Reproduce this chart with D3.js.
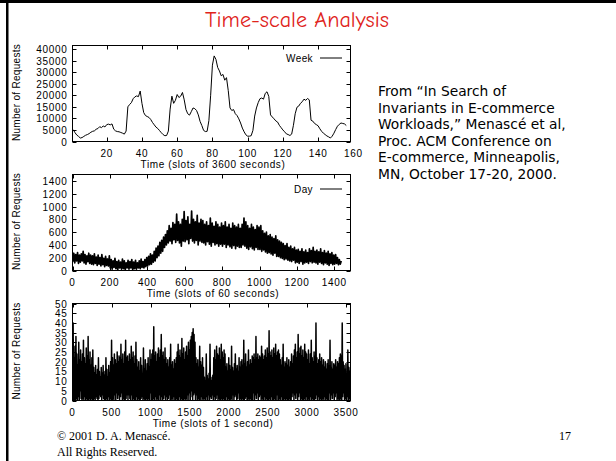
<!DOCTYPE html>
<html><head><meta charset="utf-8">
<script src="https://cdn.jsdelivr.net/npm/d3@7"></script>
<style>html,body{margin:0;padding:0;background:#fff;}svg{display:block;}</style>
</head><body><svg id="c" width="616" height="461"></svg>
<script>
// ---------------- DATA ----------------
const titleText = "Time-scale Analysis";
const sourceLines = ["From \u201CIn Search of", "Invariants in E-commerce", "Workloads,\u201D Menasc\u00E9 et al,", "Proc. ACM Conference on", "E-commerce, Minneapolis,", "MN, October 17-20, 2000."];
const footerLines = ["\u00A9 2001 D. A. Menasc\u00E9.", "All Rights Reserved."];
const pageNumber = "17";
const yAxisTitle = "Number of Requests";

// Week: requests per 3600-s slot, slots 1..156
const weekSlotStart = 1;
const weekValues = [5100,3800,2800,2200,1500,1700,2200,2700,3000,3400,4000,4400,4600,5300,5600,6400,6000,6700,6300,7300,
7500,7200,7600,5300,4600,4300,4200,3900,3600,3200,4500,15000,16000,16800,18500,19300,19700,19400,21800,16500,
12500,11200,10800,10400,9500,8200,7200,6200,5600,4700,3800,3000,2500,2600,4500,14000,19600,16500,17800,20300,
19000,19600,21200,18000,13800,12000,11400,12900,14500,14200,13400,11500,8700,6900,4800,4300,4400,9000,20000,33000,
37000,35500,32000,30500,28400,29000,26500,27600,22000,14500,13400,13800,12000,11200,9800,8000,5800,4200,2900,2300,
2300,2500,4800,11000,14500,16800,18500,18800,18300,20800,21500,19500,11500,10600,9800,8900,8400,7000,6000,5000,
4200,3300,3000,2600,3200,7000,12000,14800,15300,16500,17200,18300,17800,18600,18000,9200,8800,7800,7300,6800,
5500,4400,3600,3000,2400,2000,1500,2300,3600,5200,6600,7400,8000,7800,7600,6900];
const weekTicksX = [20,40,60,80,100,120,140,160];
const weekTicksY = [0,5000,10000,15000,20000,25000,30000,35000,40000];

// Day: per 10-slot bin (60-s slots), highest and lowest counts seen
const dayBinSize = 10;
const dayHigh = [
270,250,280,240,260,300,250,230,270,240, 230,260,210,240,200,250,190,220,180,230,
170,150,190,140,160,130,180,150,120,160, 140,170,130,160,120,150,180,140,170,200,
220,260,240,300,350,380,440,470,520,560, 620,700,660,750,720,880,760,720,800,920,
780,840,720,930,800,760,860,740,800,780, 720,760,700,820,740,690,760,720,680,740,
700,760,680,720,660,740,700,680,720,660, 720,820,760,700,660,720,680,640,700,680,
700,620,580,600,540,560,520,500,540,480, 460,440,420,390,420,360,380,340,360,320,
330,300,340,290,320,280,340,310,360,300, 320,290,340,280,310,270,300,260,280,240,
250,200,170,150];
const dayLow = [
140,120,150,110,130,150,120,100,140,110, 100,90,110,80,100,70,90,60,80,70,
40,20,50,30,10,40,20,30,10,40, 20,40,10,30,20,40,30,50,40,60,
70,90,100,130,150,200,230,270,300,360, 400,430,460,420,480,440,470,430,380,460,
450,480,420,500,460,430,470,400,460,440, 430,400,450,410,380,440,400,420,380,410,
380,410,360,400,370,350,390,340,380,360, 360,400,380,350,330,370,340,320,360,330,
330,300,320,290,270,280,260,240,270,220, 220,200,190,170,180,160,150,140,160,120,
130,110,140,100,120,130,110,140,120,130, 120,100,130,110,90,120,100,80,110,90,
100,110,90,100];
const dayTicksX = [0,200,400,600,800,1000,1200,1400];
const dayTicksY = [0,200,400,600,800,1000,1200,1400];

// Second: per 12-s bin, the highest and lowest 1-s counts seen
const secBinSize = 12;
const secHigh = [
40,22,28,33,24,18,30,21,26,20, 24,31,22,19,27,23,33,21,25,18, 22,26,17,14,18,13,16,22,15,12,
17,14,18,13,15,22,16,12,18,14, 20,31,22,18,24,21,19,25,20,23, 22,29,21,24,19,25,31,22,23,20,
24,21,28,22,25,19,23,30,21,17, 20,15,22,18,14,27,16,21,15,19, 22,17,26,21,24,26,38,23,25,20,
24,27,22,26,34,23,25,21,27,22, 19,21,17,22,29,18,20,16,21,19, 22,25,29,23,26,22,32,24,27,21,
25,28,23,30,26,31,33,35,37,34, 30,22,19,21,17,28,20,18,22,17, 12,10,24,13,11,14,29,12,10,13,
22,26,21,28,24,23,27,21,29,25, 22,26,24,17,19,15,22,18,16,28, 17,15,19,24,16,18,15,22,17,20,
21,18,31,19,24,17,20,26,18,21, 19,23,22,24,21,33,22,24,21,23, 22,28,24,21,23,26,22,27,24,36,
25,23,26,22,27,24,29,23,25,26, 24,21,18,22,29,17,20,19,22,18, 21,17,20,24,19,23,26,29,22,25,
34,24,27,28,23,26,22,29,25,24, 21,26,19,24,31,22,20,25,23,40, 22,19,21,24,20,22,18,21,17,20,
16,19,21,18,31,17,20,16,19,18, 21,17,20,19,22,24,23,40,20,18, 16,19,14,26,17,15,19];
const secLow = [
0,1,0,0,1,0,2,0,5,1, 0,1,0,2,0,1,0,0,1,0, 1,0,0,1,0,2,1,0,1,3,
2,0,3,1,0,0,1,0,2,0, 1,0,0,1,0,3,0,4,1,3, 0,2,4,0,1,0,0,1,3,0,
3,1,0,3,0,1,0,0,2,0, 1,0,0,1,2,0,1,0,0,1, 0,1,0,4,0,0,1,0,2,0,
1,0,0,3,0,2,0,1,3,0, 2,0,1,3,0,0,1,0,2,0, 0,1,0,0,2,0,1,0,0,1,
0,1,0,3,0,4,2,5,0,3, 4,0,3,0,1,0,0,2,0,1, 0,1,0,2,0,3,0,2,1,3,
0,2,0,1,3,0,1,0,0,1, 0,1,0,0,2,0,1,0,0,1, 0,3,0,2,3,0,1,4,0,1,
0,1,0,0,1,2,0,0,1,0, 1,0,0,4,0,3,1,4,0,2, 3,0,1,0,0,2,0,1,0,0,
1,0,2,0,0,1,0,0,3,0, 0,1,0,2,0,0,1,0,1,0, 0,1,0,0,2,4,0,3,1,4,
0,2,4,0,1,0,0,1,0,2, 0,1,0,0,2,0,1,0,0,1, 3,0,2,0,1,0,0,1,0,2,
0,1,0,0,4,0,3,1,4,0, 2,4,0,1,0,0,1,0,2,4, 0,1,0,2,0,1,0];
const secTicksX = [0,500,1000,1500,2000,2500,3000,3500];
const secTicksY = [0,5,10,15,20,25,30,35,40,45,50];

// ---------------- DRAW ----------------
const svg = d3.select("#c");
svg.append("rect").attr("width",616).attr("height",461).attr("fill","#fff");
// slide border
svg.append("rect").attr("x",0).attr("y",0).attr("width",616).attr("height",3).attr("fill","#000");
svg.append("rect").attr("x",6).attr("y",0).attr("width",2.5).attr("height",461).attr("fill","#000");

const title = svg.append("text").attr("x",297).attr("y",27).attr("text-anchor","middle")
  .attr("font-family","'Comic Sans MS','Comic Neue','DejaVu Sans',sans-serif").attr("font-size",20)
  .attr("fill","#e0231b").text(titleText);
(function(){const w=title.node().getComputedTextLength(); title.attr("font-size",20*184/w);})();

const src = svg.append("g").attr("font-family","'Comic Sans MS','DejaVu Sans',sans-serif").attr("fill","#000");
const srcT = src.selectAll("text").data(sourceLines).join("text")
  .attr("x",378).attr("y",(d,i)=>96+16.5*i).attr("font-size",13).text(d=>d);
(function(){const w=srcT.nodes()[2].getComputedTextLength(); srcT.attr("font-size",13*188/w);})();

const foot = svg.append("g").attr("font-family","'Liberation Serif','Times New Roman',serif").attr("font-size",12).attr("fill","#000");
foot.append("text").attr("x",57).attr("y",440).text(footerLines[0]);
foot.append("text").attr("x",57).attr("y",456).text(footerLines[1]);
foot.append("text").attr("x",559).attr("y",440).text(pageNumber);

const AX_FONT = "'Liberation Sans',Arial,Helvetica,sans-serif";
let clipId = 0;
function panel(o){
  const g = svg.append("g");
  const x = d3.scaleLinear().domain(o.xDomain).range([o.x0,o.x1]);
  const y = d3.scaleLinear().domain(o.yDomain).range([o.y1,o.y0]);
  const inX = v => v>=o.xDomain[0]-1e-9 && v<=o.xDomain[1]+1e-9;
  const tk = g.append("g").attr("stroke","#000").attr("stroke-width",1);
  o.xTicks.filter(inX).forEach(v=>{
    const px = Math.round(x(v))+0.5;
    tk.append("line").attr("x1",px).attr("x2",px).attr("y1",o.y1).attr("y2",o.y1-4);
    tk.append("line").attr("x1",px).attr("x2",px).attr("y1",o.y0).attr("y2",o.y0+4);
  });
  o.yTicks.forEach(v=>{
    const py = Math.round(y(v))+0.5;
    tk.append("line").attr("x1",o.x0).attr("x2",o.x0+4).attr("y1",py).attr("y2",py);
    tk.append("line").attr("x1",o.x1).attr("x2",o.x1-4).attr("y1",py).attr("y2",py);
  });
  const lab = g.append("g").attr("font-family",AX_FONT).attr("font-size",10).attr("fill","#000").attr("letter-spacing","0.7px");
  lab.selectAll("text.xl").data(o.xTicks).join("text").attr("class","xl")
    .attr("x",d=>x(d)).attr("y",o.y1+15).attr("text-anchor","middle").text(d=>d);
  lab.selectAll("text.yl").data(o.yTicks).join("text").attr("class","yl")
    .attr("x",o.x0-5).attr("y",d=>y(d)+4).attr("text-anchor","end").text(d=>d);
  const tt = g.append("g").attr("font-family",AX_FONT).attr("font-size",10).attr("fill","#000").attr("letter-spacing","0.6px");
  tt.append("text").attr("x",213).attr("y",o.y1+26).attr("text-anchor","middle").text(o.xTitle);
  tt.append("text").attr("transform",`translate(20,${(o.y0+o.y1)/2-1}) rotate(-90)`).attr("text-anchor","middle").attr("letter-spacing","0.3px").text(yAxisTitle);
  const id = "clip"+(clipId++);
  svg.append("clipPath").attr("id",id).append("rect").attr("x",o.x0).attr("y",o.y0).attr("width",o.x1-o.x0).attr("height",o.y1-o.y0);
  g.append("path").datum(o.points).attr("clip-path",`url(#${id})`)
    .attr("fill","none").attr("stroke","#000").attr("stroke-width",o.sw||1).attr("stroke-linejoin","round")
    .attr("d",d3.line().x(d=>x(d[0])).y(d=>y(d[1])));
  if(o.legend){
    const ly = o.y0+o.legendDy;
    lab.append("text").attr("x",313).attr("y",ly+3.5).attr("text-anchor","end").attr("letter-spacing","0.4px").text(o.legend);
    g.append("line").attr("x1",320).attr("x2",342).attr("y1",ly).attr("y2",ly).attr("stroke","#000");
  }
  g.append("rect").attr("x",o.x0).attr("y",o.y0).attr("width",o.x1-o.x0).attr("height",o.y1-o.y0)
    .attr("fill","none").attr("stroke","#000").attr("stroke-width",1);
}

panel({x0:72.5,x1:350.5,y0:45.5,y1:141.5,xDomain:[0.57,158.4],yDomain:[0,41500],
  xTicks:weekTicksX,yTicks:weekTicksY,xTitle:"Time (slots of 3600 seconds)",legend:"Week",legendDy:12.5,sw:1,
  points:weekValues.map((v,i)=>[weekSlotStart+i,v])});
panel({x0:72.5,x1:350.5,y0:174.5,y1:270.5,xDomain:[0,1486.6],yDomain:[0,1500],
  xTicks:dayTicksX,yTicks:dayTicksY,xTitle:"Time (slots of 60 seconds)",legend:"Day",legendDy:14.5,sw:1.7,
  points:dayHigh.flatMap((h,k)=>[[k*dayBinSize+2,dayLow[k]],[k*dayBinSize+7,h]])});
panel({x0:72.5,x1:350.5,y0:303.5,y1:400.5,xDomain:[0,3558],yDomain:[0,50],
  xTicks:secTicksX,yTicks:secTicksY,xTitle:"Time (slots of 1 second)",sw:1.5,
  points:secHigh.flatMap((h,k)=>[[k*secBinSize+2,secLow[k]],[k*secBinSize+8,h]])});
</script></body></html>
